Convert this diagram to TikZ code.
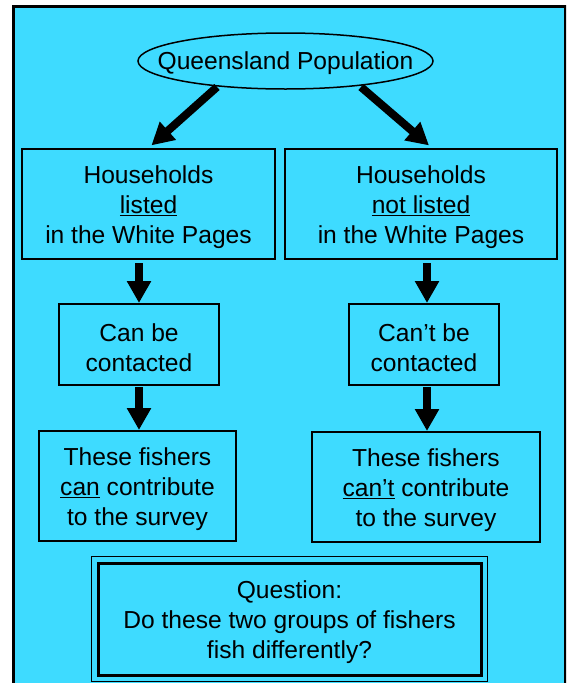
\documentclass[tikz,border=0pt]{standalone}
\usepackage{fontspec}
\setmainfont{Liberation Sans}
\usetikzlibrary{shapes.geometric,arrows.meta}
\definecolor{bgcyan}{RGB}{62,219,255}
\newcommand{\toplift}{\rule{0pt}{24pt}}
\tikzset{
  txt/.style={font=\fontsize{24.6}{30}\selectfont, align=center, inner sep=0pt},
  boxnode/.style={txt, draw, line width=2pt, rectangle},
  bigarrow/.style={line width=8pt, -{Triangle[length=22pt,width=23pt]}},
}
\begin{document}
\begin{tikzpicture}[x=1pt,y=-1pt]
\useasboundingbox (0,0) rectangle (566,683);
\clip (0,0) rectangle (566,683);
\draw[fill=bgcyan, line width=3pt] (13.5,6.5) rectangle (565.5,700);

\node[draw, ellipse, line width=1.5pt, inner sep=0pt, minimum width=295pt, minimum height=56pt] (q) at (285.5,61) {};
\node[txt] (qt) at ([yshift=-2pt]q.center) {Queensland Population};

\node[boxnode, minimum width=253pt, minimum height=110pt] (hl) at (148.5,204)
  {\toplift Households\\\underline{listed}\\in the White Pages};
\node[boxnode, minimum width=272pt, minimum height=110pt] (hr) at (421,204)
  {\toplift Households\\\underline{not listed}\\in the White Pages};

\node[boxnode, minimum width=160pt, minimum height=81pt] (cb) at (139,344.5)
  {\toplift Can be\\contacted};
\node[boxnode, minimum width=150pt, minimum height=81pt] (cn) at (424,344.5)
  {\toplift Can’t be\\contacted};

\node[boxnode, minimum width=197pt, minimum height=110pt] (fl) at (137.5,486)
  {\toplift These fishers\\\underline{can} contribute\\to the survey};
\node[boxnode, minimum width=228pt, minimum height=110pt] (fr) at (426,487)
  {\toplift These fishers\\\underline{can’t} contribute\\to the survey};

\node[boxnode, line width=3pt, minimum width=383pt, minimum height=112pt] (qq) at (289.5,619)
  {\toplift Question:\\Do these two groups of fishers\\fish differently?};
\draw[line width=1.5pt] ([xshift=-5pt,yshift=5pt]qq.north west) rectangle ([xshift=5pt,yshift=-5pt]qq.south east);

\coordinate (ql) at (217,87);
\coordinate (qr) at (361,87);
\draw[bigarrow, shorten >=4pt] (ql) -- (hl.north);
\draw[bigarrow, shorten >=4pt] (qr) -- ([xshift=11pt]hr.north);

\draw[bigarrow, shorten <=3pt] (cb.north |- hl.south) -- (cb.north);
\draw[bigarrow, shorten <=3pt] ([xshift=3pt]cn.north |- hr.south) -- ([xshift=3pt]cn.north);
\draw[bigarrow, shorten <=1pt] (cb.south) -- (cb.south |- fl.north);
\draw[bigarrow, shorten <=1pt] ([xshift=3pt]cn.south) -- ([xshift=3pt]cn.south |- fr.north);
\end{tikzpicture}
\end{document}
